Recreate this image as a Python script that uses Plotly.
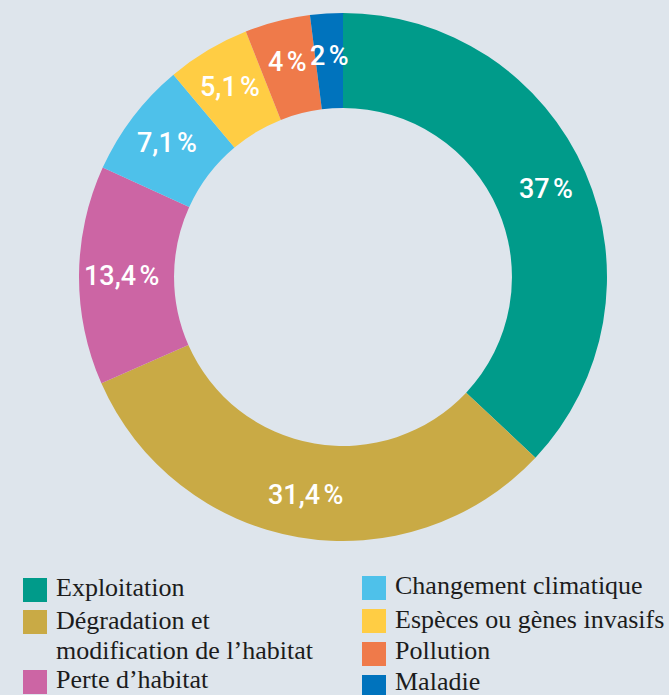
import math
import plotly.graph_objects as go

# Data
categories = ["Exploitation", "Dégradation et modification de l’habitat", "Perte d’habitat",
              "Changement climatique", "Espèces ou gènes invasifs", "Pollution", "Maladie"]
values = [37, 31.4, 13.4, 7.1, 5.1, 4, 2]
colors = ["#009b8a", "#c9aa45", "#cc65a4", "#4ec1ea", "#ffcd44", "#ef7a4a", "#0073bd"]

# Legend text (two columns; (text lines, category index))
legend_left = [(["Exploitation"], 0), (["Dégradation et", "modification de l’habitat"], 1), (["Perte d’habitat"], 2)]
legend_right = [(["Changement climatique"], 3), (["Espèces ou gènes invasifs"], 4), (["Pollution"], 5), (["Maladie"], 6)]

W, H = 669, 695
BG = "#dee5ec"

labels_txt = [f"{v:g}".replace(".", ",") + "\u202f%" for v in values]

cx, cy, R = 343, 277, 264
HOLE = 0.64
fig = go.Figure(go.Pie(
    labels=categories, values=values, textinfo="none",
    sort=False, direction="clockwise", rotation=0, hole=HOLE,
    marker=dict(colors=colors, line=dict(width=0)),
    showlegend=False, hoverinfo="label+percent",
    domain=dict(x=[(cx - R) / W, (cx + R) / W], y=[1 - (cy + R) / H, 1 - (cy - R) / H]),
))

def px(x): return x / W
def py(y): return 1 - y / H

shapes, annots = [], []

# slice labels placed at the middle of each ring sector (derived from the values)
total = sum(values)
cum = 0
r_lab = R * (1 + HOLE) / 2 + 5
for v, t in zip(values, labels_txt):
    mid = (cum + v / 2) / total * 2 * math.pi
    cum += v
    x = cx + r_lab * math.sin(mid)
    y = cy - r_lab * math.cos(mid)
    annots.append(dict(text=f'<span style="letter-spacing:-1px">{t}</span>',
                       xref="paper", yref="paper", x=px(x), y=py(y),
                       xanchor="center", yanchor="middle", showarrow=False,
                       font=dict(family="Roboto, Liberation Sans, sans-serif", weight=500,
                                 size=27, color="white")))

serif = "Liberation Serif, Times New Roman, serif"
TXT = "#1c1c1c"
left_sq = [590, 622, 682]
left_line_y = [[587], [620, 650], [679]]
for (lines, idx), yc, tys in zip(legend_left, left_sq, left_line_y):
    shapes.append(dict(type="rect", xref="paper", yref="paper", x0=px(23), x1=px(47),
                       y0=py(yc + 12), y1=py(yc - 12), fillcolor=colors[idx], line=dict(width=0)))
    for ln, ty in zip(lines, tys):
        annots.append(dict(text=ln, xref="paper", yref="paper", x=px(54), y=py(ty), xanchor="left",
                           yanchor="middle", showarrow=False, align="left",
                           font=dict(family=serif, size=26, color=TXT)))
right_sq = [588, 621, 654, 687]
right_txt_y = [585, 619, 650, 681]
for (lines, idx), yc, ty in zip(legend_right, right_sq, right_txt_y):
    shapes.append(dict(type="rect", xref="paper", yref="paper", x0=px(362), x1=px(386),
                       y0=py(yc + 12), y1=py(yc - 12), fillcolor=colors[idx], line=dict(width=0)))
    annots.append(dict(text=lines[0], xref="paper", yref="paper", x=px(393), y=py(ty), xanchor="left",
                       yanchor="middle", showarrow=False, align="left",
                       font=dict(family=serif, size=26, color=TXT)))

fig.update_layout(width=W, height=H, margin=dict(l=0, r=0, t=0, b=0),
                  paper_bgcolor=BG, plot_bgcolor=BG, shapes=shapes, annotations=annots)
fig.write_html("out.html")
